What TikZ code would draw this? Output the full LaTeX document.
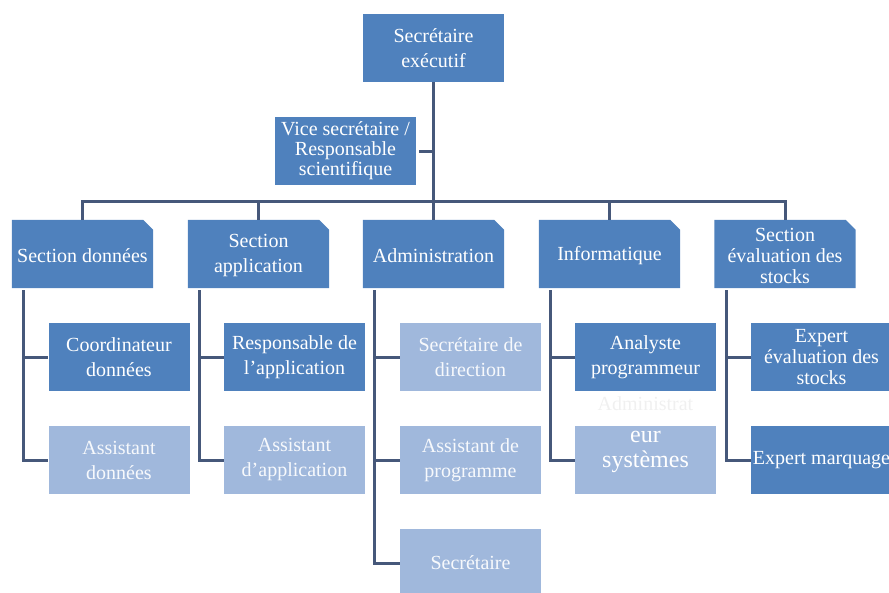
\documentclass[tikz,border=0pt]{standalone}
\usepackage{fontspec}
\setmainfont{Liberation Serif}
\usetikzlibrary{backgrounds}
\definecolor{boxblue}{HTML}{4F81BD}
\definecolor{lightblue}{HTML}{A0B8DC}
\definecolor{linecol}{HTML}{46587A}
\begin{document}
\begin{tikzpicture}[x=1pt,y=-1pt,
  box/.style={rectangle, fill=boxblue, minimum width=141pt, minimum height=68pt, inner sep=0pt, align=center, text=white, font=\fontsize{20}{25}\selectfont},
  lbox/.style={box, fill=lightblue, text=white!92!lightblue},
  sbox/.style={box, fill=none},
  conn/.style={draw=linecol, line width=3pt}]
\useasboundingbox (0,0) rectangle (889,592);

% top levels
\node[box] (se) at (433.5,48) {Secrétaire\\exécutif};
\node[box, font=\fontsize{20}{20}\selectfont] (vs) at (345.5,151) {Vice secrétaire /\\Responsable\\scientifique};

% sections (snipped corner)
\node[sbox] (sd) at (82.5,256) {Section données};
\node[sbox] (sa) at (258.5,256) {Section\\application};
\node[sbox] (adm) at (433.5,256) {Administration};
\node[sbox] (inf) at (609.5,256) {Informatique};
\node[sbox, font=\fontsize{20}{21}\selectfont] (sev) at (785,256) {Section\\évaluation des\\stocks};

\begin{scope}[on background layer]
\foreach \n in {sd,sa,adm,inf,sev}{
  \fill[boxblue] ([yshift=2pt]\n.south west) -- ([yshift=2pt]\n.north west) -- ([xshift=-10pt,yshift=2pt]\n.north east) -- ([yshift=-8pt]\n.north east) -- ([yshift=2pt]\n.south east) -- cycle;
}
\end{scope}

% third level
\node[box] (cd) at (119,357) {Coordinateur\\données};
\node[lbox] (ad) at (119,460) {Assistant\\données};
\node[box] (ra) at (294.5,357) {Responsable de\\l'application};
\node[lbox] (aa) at (294.5,460) {Assistant\\d'application};
\node[lbox] (sdir) at (470.5,357) {Secrétaire de\\direction};
\node[lbox] (ap) at (470.5,460) {Assistant de\\programme};
\node[lbox] (sec) at (470.5,563) {Secrétaire};
\node[box] (anp) at (645.5,357) {Analyste\\programmeur};
\node[lbox] (asys) at (645.5,460) {};
\node[text=white, font=\fontsize{24}{25}\selectfont, align=center, inner sep=0pt] (asyst) at (645.5,452) {eur\\systèmes};
\node[text=black!6, font=\fontsize{20}{24}\selectfont, inner sep=0pt] (asysa) at (645.5,404) {Administrat};
\node[box, font=\fontsize{20}{21}\selectfont] (eev) at (821.5,357) {Expert\\évaluation des\\stocks};
\node[box] (emq) at (821.5,460) {Expert marquage};

% connectors
\coordinate (bus) at (433.5,201);
\draw[conn] (se.south) -- (bus);
\draw[conn] ([xshift=3pt]vs.east) -- (vs.east -| bus);
\draw[conn] ([yshift=2pt]sd.north) -- (sd.north |- bus) -- (sev.north |- bus) -- ([yshift=2pt]sev.north);
\foreach \n in {sa,adm,inf}{
  \draw[conn] ([yshift=2pt]\n.north) -- (\n.north |- bus);
}
\draw[conn] ([xshift=12pt]sd.south west) |- (ad.west);
\draw[conn] ([xshift=12pt]sd.south west |- cd.west) -- (cd.west);
\draw[conn] ([xshift=12pt]sa.south west) |- (aa.west);
\draw[conn] ([xshift=12pt]sa.south west |- ra.west) -- (ra.west);
\draw[conn] ([xshift=12pt]adm.south west) |- (sec.west);
\draw[conn] ([xshift=12pt]adm.south west |- sdir.west) -- (sdir.west);
\draw[conn] ([xshift=12pt]adm.south west |- ap.west) -- (ap.west);
\draw[conn] ([xshift=12pt]inf.south west) |- (asys.west);
\draw[conn] ([xshift=12pt]inf.south west |- anp.west) -- (anp.west);
\draw[conn] ([xshift=12pt]sev.south west) |- (emq.west);
\draw[conn] ([xshift=12pt]sev.south west |- eev.west) -- (eev.west);
\end{tikzpicture}
\end{document}
